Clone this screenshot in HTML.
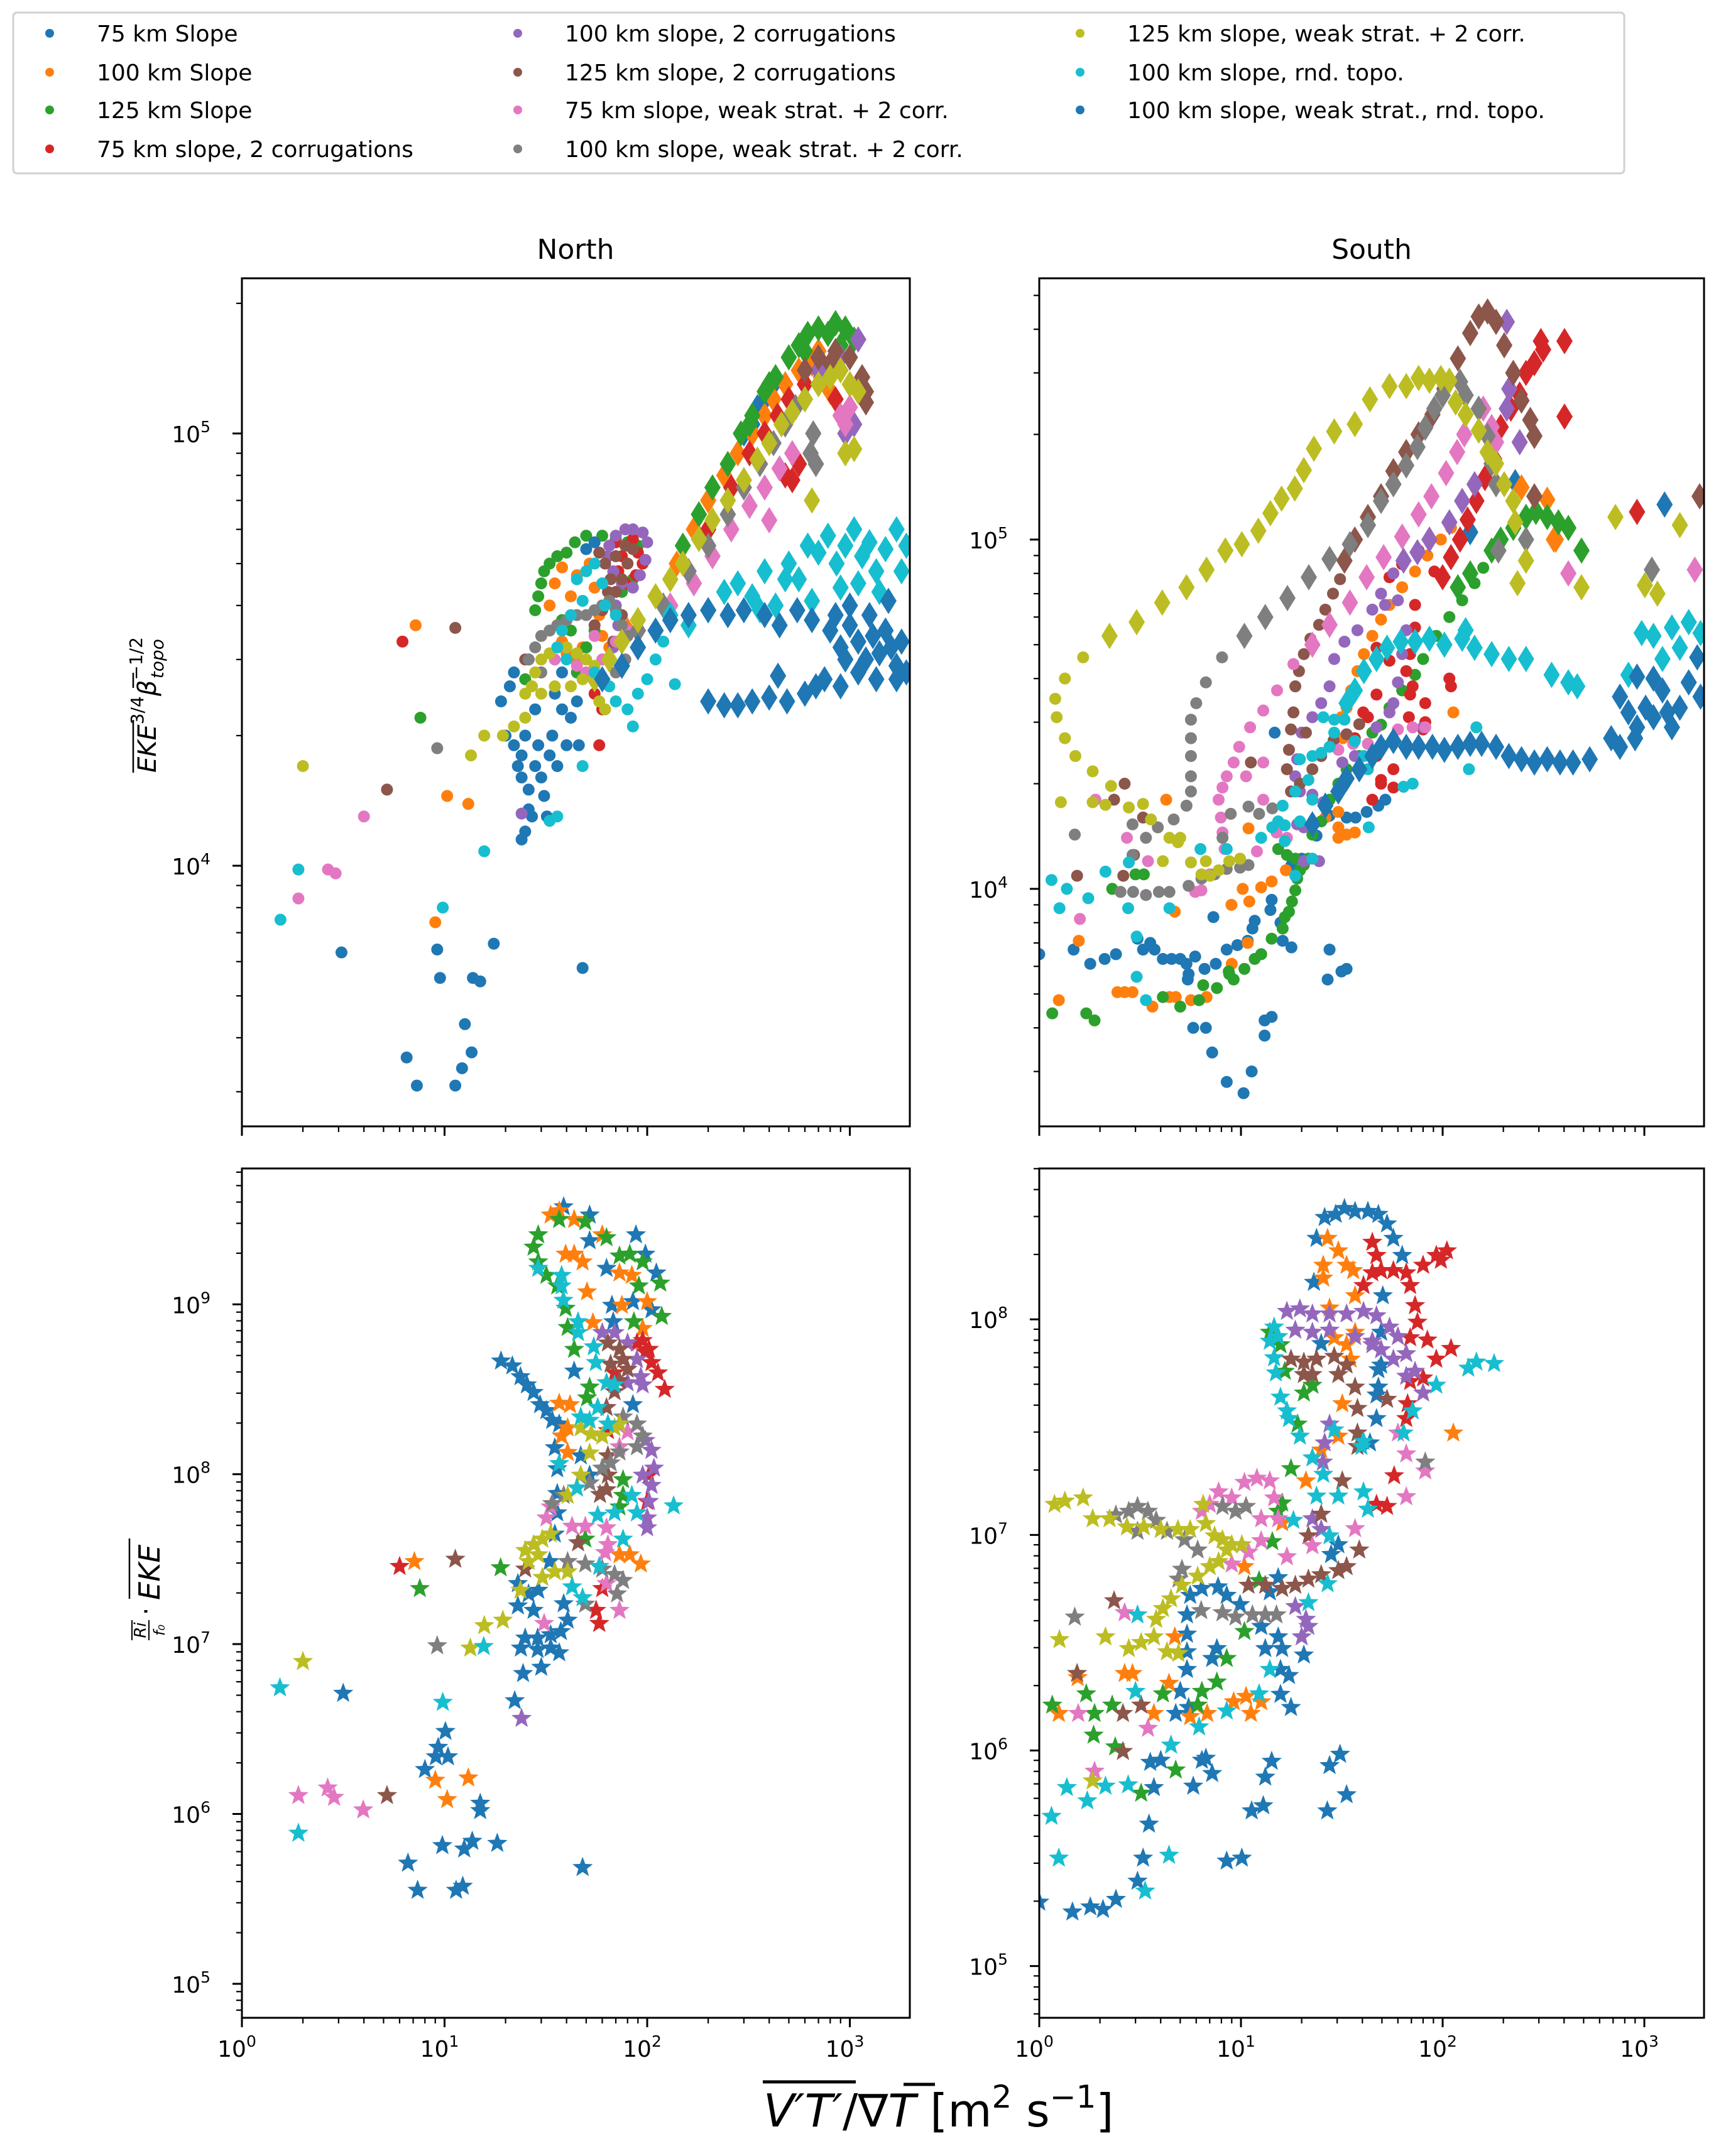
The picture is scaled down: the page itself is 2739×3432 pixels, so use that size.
<!DOCTYPE html>
<html><head><meta charset="utf-8">
<style>
html,body{margin:0;padding:0;background:#fff;}
svg{display:block;font-family:"DejaVu Sans","Liberation Sans",sans-serif;}
</style></head>
<body>
<svg id="fig" width="2739" height="3432" viewBox="0 0 2739 3432" xmlns="http://www.w3.org/2000/svg">
<rect x="0" y="0" width="2739" height="3432" fill="#fff"/>
<g id="legend"></g>
<g id="panels"></g>
<g id="labels"></g>
</svg>
<script>
// ---------- data ----------
const seriesNames = ["75 km Slope","100 km Slope","125 km Slope","75 km slope, 2 corrugations","100 km slope, 2 corrugations","125 km slope, 2 corrugations","75 km slope, weak strat. + 2 corr.","100 km slope, weak strat. + 2 corr.","125 km slope, weak strat. + 2 corr.","100 km slope, rnd. topo.","100 km slope, weak strat., rnd. topo."];
const seriesColors = ["#1f77b4","#ff7f0e","#2ca02c","#d62728","#9467bd","#8c564b","#e377c2","#7f7f7f","#bcbd22","#17becf","#1f77b4"];
const xTickExps = [0,1,2,3];
const ntTickExps = [4,5];
const stTickExps = [4,5];
const nbTickExps = [5,6,7,8,9];
const sbTickExps = [5,6,7,8];

// North top: circles
const ntDots = [
[[3.1,6.3e3],[6.5,3.6e3],[7.3,3.1e3],[9.2,6.4e3],[9.5,5.5e3],[11.3,3.1e3],[12.2,3.4e3],[12.6,4.3e3],[13.6,3.7e3],[13.8,5.5e3],[15,5.4e3],[17.5,6.6e3],[48,5.8e3],[19,2.4e4],[20,2e4],[21,2.6e4],[22,1.9e4],[23,1.7e4],[24,1.6e4],[25,2e4],[26,1.5e4],[27,1.3e4],[25,1.2e4],[24,1.15e4],[26,1.35e4],[28,1.7e4],[30,1.6e4],[31,1.45e4],[32,1.3e4],[33,1.8e4],[29,1.9e4],[34,2e4],[36,1.7e4],[38,2.3e4],[40,1.9e4],[35,2.5e4],[42,2.2e4],[45,2.4e4],[30,2.8e4],[28,2.3e4],[38,2.8e4],[50,3.2e4],[46,1.9e4],[24,1.8e4],[22,2.8e4],[26,3e4]],
[[7.2,3.6e4],[9,7.4e3],[10.3,1.45e4],[13.1,1.39e4],[35,4.5e4],[33,4e4],[36,3.6e4],[38,3.3e4],[40,3.1e4],[44,3e4],[48,3.2e4],[42,4.2e4],[45,4.7e4],[52,5e4],[38,4.9e4],[55,4.4e4],[58,3.8e4],[60,3.4e4],[65,3.2e4]],
[[7.6,2.2e4],[25,2.7e4],[28,3.9e4],[29,4.2e4],[30,4.5e4],[31,4.8e4],[33,5e4],[36,5.2e4],[40,5.3e4],[44,5.6e4],[50,5.8e4],[60,5.8e4],[70,5.7e4],[80,5.6e4],[90,5.5e4],[95,5e4],[85,4.6e4],[75,4.3e4],[65,4.1e4],[55,3.5e4],[50,3.2e4],[45,2.8e4],[42,3.5e4],[38,3.7e4]],
[[6.2,3.3e4],[58,1.9e4],[60,2.3e4],[55,2.5e4],[70,5.6e4],[80,5.5e4],[90,5.3e4],[95,5e4],[88,4.7e4],[78,4.5e4],[72,4.8e4],[75,5.2e4],[85,5.7e4]],
[[24,1.32e4],[65,5.5e4],[70,5.8e4],[78,6e4],[85,6e4],[95,5.9e4],[100,5.6e4],[98,5.1e4],[92,4.7e4],[85,4.4e4],[75,4.5e4],[68,4.8e4],[64,5.2e4],[70,4e4],[72,3.6e4],[68,3.2e4]],
[[11.3,3.55e4],[5.2,1.5e4],[58,5.3e4],[62,5e4],[66,4.6e4],[70,4.3e4],[75,4.6e4],[80,5e4],[85,5.4e4],[78,5.5e4],[70,5.2e4],[64,4.3e4],[60,3.9e4],[55,3.6e4],[68,3.3e4],[75,3.8e4],[25,3e4]],
[[1.9,8.4e3],[2.66,9.8e3],[2.9,9.6e3],[4,1.3e4],[35,3e4],[40,3.2e4],[50,2.8e4],[60,3e4],[70,3.3e4],[55,3.4e4],[45,2.9e4],[80,3.5e4]],
[[9.2,1.87e4],[28,3.2e4],[30,3.4e4],[33,3.5e4],[36,3.6e4],[40,3.7e4],[45,3.8e4],[50,3.8e4],[55,3.9e4],[60,4e4],[65,4.1e4],[70,3.9e4],[75,3.6e4],[80,3.4e4],[78,3e4],[70,2.8e4],[26,3e4],[30,2.8e4]],
[[2,1.7e4],[13.5,1.8e4],[15.7,2e4],[19.4,2e4],[22,2.1e4],[25,2.2e4],[25,2.5e4],[27,2.6e4],[28,2.8e4],[30,3e4],[33,3.1e4],[36,3.2e4],[40,3.2e4],[45,3.1e4],[50,3e4],[55,2.9e4],[48,2.7e4],[42,2.6e4],[35,2.6e4],[30,2.5e4],[58,2.4e4],[62,2.3e4]],
[[1.55,7.5e3],[1.9,9.8e3],[9.8,8e3],[15.7,1.08e4],[33,1.27e4],[36,1.3e4],[137,2.63e4],[48,1.7e4],[45,4.6e4],[50,4.8e4],[55,5e4],[60,4.5e4],[48,4.1e4],[42,3.8e4],[38,3.5e4],[36,3.2e4],[40,3e4],[55,2.8e4],[65,2.6e4],[70,2.4e4],[80,2.3e4],[90,2.5e4],[100,2.7e4],[110,3e4],[120,3.3e4],[70,3.8e4],[62,4e4],[85,2.1e4]],
[[55,5.6e4],[50,5.4e4]]
];
// North top: diamonds
const ntDiamonds = [
[[300,1e5],[350,1.15e5],[420,1.3e5],[380,1.2e5],[330,1.05e5]],
[[80,3.5e4],[110,4.2e4],[140,5e4],[170,6e4],[200,7e4],[240,8e4],[280,9e4],[330,1e5],[380,1.1e5],[420,1.2e5],[480,1.3e5],[560,1.4e5],[650,1.45e5],[720,1.35e5],[800,1.25e5],[900,1.1e5],[700,1.55e5]],
[[150,5.5e4],[180,6.5e4],[210,7.5e4],[250,8.5e4],[290,1e5],[330,1.1e5],[380,1.25e5],[430,1.35e5],[500,1.5e5],[560,1.6e5],[620,1.7e5],[700,1.75e5],[780,1.7e5],[850,1.8e5],[950,1.75e5],[1050,1.65e5],[900,1.6e5],[600,1.55e5],[400,1.3e5],[320,1.05e5]],
[[200,6e4],[260,7.5e4],[320,9e4],[380,1e5],[440,1.1e5],[500,1.2e5],[480,8e4],[520,7.8e4],[560,8.5e4],[600,1.3e5],[850,1.2e5],[1000,1.3e5]],
[[600,1.2e5],[700,1.4e5],[900,1.5e5],[1100,1.65e5],[950,1e5],[1050,1.05e5]],
[[700,1.5e5],[850,1.55e5],[1000,1.5e5],[1200,1.25e5],[1150,1.35e5],[1200,1.18e5],[800,1.45e5],[600,1.4e5]],
[[130,4e4],[170,4.5e4],[210,5.2e4],[260,6e4],[320,6.8e4],[380,7.5e4],[450,8.3e4],[520,9e4],[480,1.05e5],[400,6.3e4],[900,1.1e5],[1000,1.15e5],[950,1.05e5]],
[[90,3.5e4],[120,4e4],[160,4.8e4],[200,5.5e4],[250,6.5e4],[300,7.5e4],[360,8.5e4],[420,9.5e4],[480,1.05e5],[540,1.15e5],[600,1.2e5],[660,1e5],[680,8.5e4],[640,9e4]],
[[55,2.7e4],[65,3e4],[75,3.3e4],[90,3.7e4],[110,4.2e4],[130,4.6e4],[150,5e4],[180,5.7e4],[210,6.3e4],[250,7e4],[300,7.8e4],[350,8.7e4],[400,9.5e4],[460,1.05e5],[520,1.12e5],[600,1.2e5],[700,1.3e5],[800,1.35e5],[900,1.4e5],[1000,1.3e5],[1100,1.25e5],[950,9e4],[1050,9.2e4],[650,7e4]],
[[130,3.8e4],[160,3.6e4],[200,3.9e4],[240,4.3e4],[280,4.5e4],[330,4.2e4],[380,4.8e4],[430,4e4],[500,5e4],[560,4.6e4],[620,5.5e4],[700,5.3e4],[780,5.8e4],[860,5e4],[950,5.5e4],[1050,6e4],[1150,5.2e4],[1250,5.6e4],[1350,4.8e4],[1500,5.4e4],[1700,6e4],[1900,5.5e4],[1800,4.8e4],[1400,4.3e4],[1100,4.5e4],[650,4.1e4],[900,4.4e4],[480,4.6e4],[360,3.9e4]],
[[60,2.7e4],[75,2.9e4],[90,3.2e4],[110,3.5e4],[130,3.7e4],[160,3.8e4],[200,3.9e4],[250,3.8e4],[300,3.9e4],[380,3.8e4],[450,3.6e4],[550,3.9e4],[650,3.7e4],[800,3.5e4],[900,3.2e4],[1000,3.6e4],[1100,3.3e4],[1200,3e4],[1300,3.4e4],[1400,3.1e4],[1500,3.5e4],[1600,3.2e4],[1700,2.9e4],[1800,3.3e4],[1900,2.8e4],[1250,3.8e4],[1550,4.1e4],[1000,4e4],[850,3.8e4],[1100,2.8e4],[1350,2.7e4],[950,3e4],[200,2.4e4],[240,2.35e4],[280,2.35e4],[330,2.4e4],[400,2.45e4],[442,2.75e4],[490,2.4e4],[600,2.5e4],[680,2.6e4],[750,2.7e4],[900,2.6e4],[1700,2.7e4]]
];
// South top: circles
const stDots = [
[[1,6.5e3],[1.48,6.7e3],[1.79,6.1e3],[2.11,6.3e3],[2.4,6.5e3],[3.07,7.2e3],[3.27,6.7e3],[3.55,7e3],[3.73,6.7e3],[4.1,6.3e3],[4.53,6.3e3],[5,6.3e3],[5.37,6.1e3],[5.5,5.7e3],[5.45,5.5e3],[5.93,6.4e3],[6.6,5.9e3],[7.5,6.1e3],[8.5,6.7e3],[9.6,6.9e3],[10.8,7.1e3],[11.4,7.7e3],[11.7,8.1e3],[14,8.7e3],[14.2,9.3e3],[16.1,7.1e3],[15.7,8e3],[17.8,1.17e4],[20,1.22e4],[23.7,1.42e4],[27.5,1.62e4],[33.4,1.6e4],[37,1.6e4],[42,1.66e4],[48,1.73e4],[52,1.8e4],[14.7,2.8e4],[7.3,8.3e3],[5.8,4e3],[6.7,4e3],[7.2,3.4e3],[8.5,2.8e3],[10.3,2.6e3],[11.3,3e3],[13.1,3.8e3],[14.2,4.3e3],[13.1,4.2e3],[26.9,5.5e3],[27.5,6.7e3],[31.5,5.8e3],[33.4,5.9e3],[17.8,6.8e3]],
[[30.4,1.4e4],[33.4,1.43e4],[36.7,1.45e4],[30.4,1.5e4],[26.2,1.6e4],[25,1.56e4],[30.4,1.66e4],[35.2,3.7e4],[37.8,4.2e4],[40.7,4.7e4],[44.8,5.3e4],[49.5,5.9e4],[54.5,6.5e4],[63,7.3e4],[73,8.1e4],[84,9e4],[98,1e5],[110,1.08e5],[33.4,3.3e4],[31.5,3.1e4],[32,2.7e4],[4.26,1.8e4],[10.9,1.49e4],[10.2,1e4],[8.97,9e3],[12.6,1.01e4],[11,9.2e3],[14.2,1.05e4],[16.7,1.13e4],[4.7,8.6e3],[1.57,7.1e3],[1.25,4.8e3],[2.44,5.06e3],[2.65,5.06e3],[2.9,5.06e3],[3.64,4.6e3],[4.42,4.9e3],[4.75,4.9e3],[5.65,4.8e3],[6.75,4.9e3],[9,6.1e3],[10.8,7e3],[113,3.2e4]],
[[1.16,4.4e3],[1.71,4.4e3],[1.88,4.2e3],[4.1,4.9e3],[5,4.6e3],[6.2,4.8e3],[7.6,5.2e3],[8.75,5.7e3],[10.4,5.9e3],[11.7,6.3e3],[12.6,6.5e3],[14.2,7.2e3],[16.1,7.7e3],[16.5,8.3e3],[17.3,8.6e3],[17.9,9.2e3],[18.6,9.9e3],[19,1.07e4],[19.6,1.13e4],[20.5,1.17e4],[18.6,1.22e4],[16.9,1.25e4],[15.3,1.3e4],[21.6,1.22e4],[22.6,1.43e4],[25,1.56e4],[27.5,1.8e4],[30.4,2e4],[33.4,2.2e4],[38.6,2.4e4],[44.8,2.8e4],[49.5,2.95e4],[54.5,3.3e4],[63,3.7e4],[73,4.1e4],[80,4.55e4],[93,5.3e4],[108,6e4],[125,6.7e4],[144,7.5e4],[159,8.3e4],[3.3,1.1e4],[2.3,1e4],[3,1.1e4],[6.5,5.3e3],[9.2,5.5e3],[8.7,5.8e3]],
[[91,8.1e4],[76,9.3e4],[63,8.5e4],[54.5,7.8e4],[73,6.5e4],[73,5.6e4],[69,4.7e4],[66,4.2e4],[71,3.8e4],[69,3.6e4],[82,3.4e4],[68,3.1e4],[80,2.86e4],[57,2.2e4],[49.5,2e4],[44.8,1.8e4],[49.5,2.05e4],[57,1.95e4],[108,4e4],[110,3.8e4],[82,3e4],[47,2.4e4],[42.6,3.1e4],[36.7,2.7e4],[40.4,3.2e4],[47,3.6e4],[54.5,4.5e4],[47,4.9e4]],
[[57,8e4],[49.5,7e4],[44.8,6.3e4],[37.8,5.5e4],[32.6,5.1e4],[29,4.55e4],[27.5,3.8e4],[25,3.4e4],[22.6,3.1e4],[20,2.8e4],[19,2.35e4],[18.6,2.1e4],[19.6,1.9e4],[22.6,1.86e4],[25.6,1.77e4],[20.5,1.5e4],[19,1.53e4],[20.5,1.2e4],[24.4,1.2e4],[51.8,6.5e4],[60,6.7e4],[66,5.5e4],[63,4.7e4],[60,3.9e4],[57,3.4e4],[54.5,3.2e4],[47,2.9e4],[42.6,2.6e4],[36.7,2.4e4],[31.8,2.3e4],[80,2.9e4]],
[[31,7.7e4],[28.6,7e4],[26.2,6.3e4],[24.4,5.7e4],[22.1,5.2e4],[20.5,4.7e4],[19.4,4.2e4],[18.6,3.8e4],[18.2,3.2e4],[17.7,2.86e4],[17.3,2.5e4],[16.9,2.2e4],[17.7,1.9e4],[19.6,2e4],[22.6,2.2e4],[25,2.4e4],[28.8,2.66e4],[33.4,2.77e4],[38.6,2.96e4],[21,2.8e4],[2.65,2e4],[2.35,1.8e4],[3.27,1.6e4],[2.95,1.25e4],[2.61,1.09e4],[1.54,1.09e4],[11.2,2.3e4]],
[[18.2,4.4e4],[15.1,3.7e4],[12.9,3.24e4],[11.1,2.9e4],[9.8,2.55e4],[9.2,2.3e4],[8.5,2.1e4],[8.1,1.95e4],[7.75,1.8e4],[7.95,1.6e4],[8.1,1.45e4],[8.3,1.3e4],[7,1.1e4],[6.37,9.9e3],[5.93,9.8e3],[10.6,2.1e4],[12.9,2.3e4],[12.9,1.8e4],[12,1.28e4],[15,1.45e4],[1.9,1.8e4],[2.72,1.4e4],[3.46,1.2e4],[1.59,8.2e3],[16.9,1.4e4],[30.4,2.5e4],[36,2.6e4],[42.6,2.6e4],[60,2.86e4],[71,2.9e4],[82,2.9e4]],
[[8.06,4.6e4],[6.7,3.9e4],[6,3.4e4],[5.65,3.05e4],[5.65,2.7e4],[5.65,2.4e4],[5.65,2.1e4],[5.65,1.9e4],[5.37,1.73e4],[4.64,1.58e4],[3.87,1.5e4],[3.38,1.4e4],[2.9,1.25e4],[2.53,9.8e3],[2.92,9.8e3],[3.38,9.6e3],[3.92,9.8e3],[4.42,9.8e3],[5.5,1.02e4],[6.37,1.07e4],[7.4,1.1e4],[8.5,1.14e4],[9.9,1.15e4],[10.9,1.17e4],[1.5,1.43e4],[2.9,1.53e4],[8.9,1.64e4],[10.9,1.72e4],[12.3,1.64e4],[14.3,1.7e4],[8.1,1.4e4]],
[[1.65,4.6e4],[1.34,4e4],[1.2,3.5e4],[1.22,3.1e4],[1.34,2.7e4],[1.51,2.4e4],[1.84,2.17e4],[2.27,1.97e4],[1.28,1.77e4],[1.84,1.77e4],[2.13,1.74e4],[2.78,1.71e4],[3.27,1.75e4],[3.58,1.58e4],[4.42,1.4e4],[4.87,1.36e4],[5.65,1.19e4],[6.37,1.1e4],[7.03,1.09e4],[7.75,1.13e4],[8.75,1.2e4],[9.9,1.22e4],[4.1,1.2e4],[5,1.4e4],[6.7,1.2e4]],
[[25.6,3.1e4],[29,3.05e4],[32.6,3.05e4],[36.7,2.65e4],[40.7,2.4e4],[42.6,2.2e4],[27.5,2.55e4],[25,2.45e4],[22.6,2.4e4],[19.6,2.35e4],[21.6,2.05e4],[18.6,1.9e4],[16.1,1.73e4],[15.3,1.56e4],[14.3,1.5e4],[16.5,1.52e4],[12.6,1.4e4],[16.5,1.37e4],[19.6,1.56e4],[22.6,1.8e4],[29,2.8e4],[64,1.96e4],[71,2e4],[135,2.2e4],[147,2.9e4],[43,1.5e4],[22.6,1.22e4],[18.6,1.09e4],[6.3,1.3e4],[2.78,1.19e4],[2.13,1.12e4],[1.15,1.06e4],[1.37,1e4],[1.75,9.4e3],[1.26,8.8e3],[2.76,8.8e3],[4.42,8.8e3],[3.04,7.3e3],[3.04,5.6e3],[3.38,4.8e3],[8.5,1.3e4]],
[]
];
// South top: diamonds
const stDiamonds = [
[[229,1.46e5],[259,1.16e5],[1260,1.26e5],[137,1.05e5]],
[[246,1.41e5],[330,1.3e5],[364,1e5],[356,1e5]],
[[175,9.3e4],[194,1e5],[224,1.08e5],[259,1.16e5],[290,1.2e5],[330,1.16e5],[375,1.12e5],[420,1.08e5],[488,9.3e4],[137,8e4],[119,7.3e4]],
[[402,3.7e5],[315,3.5e5],[285,3.2e5],[259,3e5],[241,2.6e5],[218,2.37e5],[194,2.1e5],[402,2.25e5],[180,1.7e5],[162,1.5e5],[147,1.29e5],[133,1.14e5],[122,1e5],[110,8.9e4],[100,7.8e4],[920,1.2e5],[307,3.7e5]],
[[208,4.2e5],[214,2.7e5],[208,2.37e5],[241,1.9e5],[175,1.7e5],[144,1.44e5],[125,1.29e5],[108,1.12e5],[86,1e5],[75,9.2e4],[64,8.7e4]],
[[32.6,8.7e4],[36.7,1e5],[42.6,1.16e5],[49.5,1.33e5],[57,1.57e5],[66,1.78e5],[76,2e5],[89,2.28e5],[102,2.7e5],[119,3.3e5],[137,3.9e5],[151,4.35e5],[167,4.5e5],[184,4.2e5],[202,3.6e5],[224,3e5],[246,2.5e5],[272,2.2e5],[285,1.98e5],[285,1.33e5],[1880,1.33e5]],
[[22.6,5e4],[27.5,5.7e4],[34.7,6.6e4],[42,7.8e4],[51,8.9e4],[63,1.02e5],[76,1.18e5],[88,1.33e5],[104,1.55e5],[118,1.78e5],[128,2e5],[159,2.37e5],[175,2.1e5],[184,1.9e5],[420,8e4],[1780,8.2e4]],
[[10.4,5.3e4],[13.2,6e4],[17,6.8e4],[21.7,7.8e4],[27.5,8.8e4],[34.7,9.7e4],[42.6,1.1e5],[49.5,1.29e5],[57,1.44e5],[66,1.63e5],[75,1.84e5],[82,2.09e5],[91,2.37e5],[100,2.59e5],[122,2.83e5],[130,2.59e5],[151,2.37e5],[167,1.98e5],[175,1.65e5],[184,1.44e5],[189,9.3e4],[259,1e5],[1090,8.2e4]],
[[2.23,5.3e4],[3.04,5.8e4],[4.07,6.6e4],[5.37,7.3e4],[6.75,8.2e4],[8.37,9.3e4],[10.1,9.7e4],[12.2,1.06e5],[14,1.19e5],[15.9,1.31e5],[18.5,1.4e5],[20.5,1.58e5],[23,1.82e5],[29,2.04e5],[36.7,2.14e5],[43.6,2.52e5],[54.5,2.75e5],[66,2.75e5],[76,2.9e5],[86,2.85e5],[98,2.9e5],[108,2.85e5],[116,2.47e5],[130,2.28e5],[151,2.05e5],[167,1.78e5],[184,1.65e5],[202,1.44e5],[224,1.29e5],[229,1.12e5],[259,8.7e4],[235,7.5e4],[488,7.3e4],[719,1.16e5],[1006,7.4e4],[1161,7e4],[1500,1.1e5]],
[[40.7,4.2e4],[47,4.55e4],[53,4.9e4],[62,5.1e4],[73,5.1e4],[86,5.2e4],[102,5e4],[125,5.2e4],[144,4.9e4],[175,4.7e4],[213,4.55e4],[259,4.55e4],[347,4.1e4],[420,3.9e4],[465,3.8e4],[970,5.4e4],[1110,5.3e4],[1370,5.6e4],[1660,5.8e4],[1900,5.4e4],[1230,4.55e4],[1500,4.9e4],[834,4.1e4],[36.7,3.7e4],[33.4,3.4e4],[130,5.5e4]],
[[22.6,1.53e4],[26.2,1.73e4],[30.4,1.9e4],[33.4,2.07e4],[38.6,2.2e4],[44.8,2.4e4],[49.5,2.55e4],[57,2.65e4],[66,2.55e4],[76,2.55e4],[89,2.55e4],[102,2.5e4],[119,2.55e4],[137,2.6e4],[156,2.6e4],[184,2.55e4],[213,2.4e4],[246,2.35e4],[285,2.3e4],[330,2.35e4],[382,2.3e4],[443,2.3e4],[536,2.35e4],[685,2.7e4],[757,3.55e4],[834,3.2e4],[920,2.9e4],[1015,3.3e4],[1110,3.1e4],[1230,3.7e4],[1370,2.9e4],[1500,3.3e4],[1660,3.9e4],[1830,4.6e4],[1900,3.55e4],[920,4.05e4],[1110,4e4],[757,2.55e4],[900,2.7e4],[1300,3.2e4]]
];
// North bottom: stars
const nbStars = [
[[38.7,3.8e9],[52,3.4e9],[52,2.4e9],[88,2.6e9],[98,2e9],[111,1.55e9],[63,1.65e9],[67,1e9],[85,1.05e9],[105,9.4e8],[68,8e8],[19,4.7e8],[21.6,4.4e8],[23.7,3.8e8],[25.5,3.4e8],[27.5,3.07e8],[29.6,2.6e8],[31.8,2.4e8],[34,2.1e8],[36.8,2e8],[43.6,4.1e8],[85,2.6e8],[47,1.3e8],[35,1.45e8],[36,1.09e8],[52,1e8],[36,7.8e7],[36,6e7],[35,4.5e7],[33,3.1e7],[23,2.3e7],[26,2e7],[29,2.1e7],[23,1.7e7],[27.5,1.6e7],[38.7,1.75e7],[40.5,1.4e7],[37.5,1.2e7],[33.4,1.15e7],[28.8,1.1e7],[25,1.1e7],[23.8,9.6e6],[28.8,9.4e6],[33.4,9.6e6],[36.8,9e6],[24.4,6.8e6],[30,7.4e6],[22.2,4.7e6],[3.16,5.2e6],[10.1,3.1e6],[9.3,2.5e6],[9.06,2.2e6],[10.4,2.2e6],[8,1.85e6],[15,1.17e6],[15,1.06e6],[9.75,6.6e5],[12.5,6.3e5],[13.7,7e5],[18.2,6.8e5],[6.6,5.2e5],[7.36,3.6e5],[11.4,3.6e5],[12.3,3.8e5],[48,4.9e5]],
[[33.4,3.4e9],[36.8,3.6e9],[43.6,3.2e9],[60,2.6e9],[39.6,2e9],[43.6,2e9],[48,1.8e9],[50.5,1.2e9],[73,1.55e9],[84,1.5e9],[75,1e9],[100,1.05e9],[54,7.9e8],[95,7.3e8],[36.8,2.65e8],[41.6,2.6e8],[40.5,1.9e8],[40.5,1.36e8],[37.8,1.7e8],[73,3.4e7],[82,3.4e7],[93,3e7],[7.1,3.1e7],[9,1.6e6],[13.1,1.65e6],[10.3,1.23e6]],
[[29,2.6e9],[27.5,2.2e9],[29,1.8e9],[31.8,1.5e9],[36,1.3e9],[39.6,9.6e8],[40.5,7.4e8],[43.6,5.5e8],[49.5,3.1e9],[36.8,3.2e9],[63,2.5e9],[73,1.95e9],[82,2e9],[95,1.8e9],[91,1.3e9],[116,1.35e9],[118,8.6e8],[86,8e8],[50.5,2.85e8],[52,3.3e8],[76,9.4e7],[76,7.6e7],[73,6.5e7],[49.5,4.2e7],[18.9,2.85e7],[7.55,2.15e7]],
[[89,6e8],[98,5.3e8],[105,4.6e8],[113,4e8],[122,3.2e8],[102,5.5e8],[95,6.2e8],[69,4e8],[64,1.83e8],[102,1e8],[100,7e7],[60,2.15e7],[56,1.6e7],[58,1.34e7],[6,2.9e7]],
[[60,6.9e8],[69,6.9e8],[80,6e8],[89,4.8e8],[93,3.8e8],[95,3.4e8],[80,3.5e8],[98,1.6e8],[105,1.4e8],[108,1.1e8],[105,8.7e7],[102,7e7],[100,5.6e7],[100,4.9e7],[95,1e8],[24,3.7e6]],
[[64,6e8],[73,5.5e8],[76,4.8e8],[80,4.2e8],[73,3.6e8],[66,4.5e8],[69,3.1e8],[63,2.5e8],[64,1.3e8],[64,1e8],[63,8.2e7],[58.5,7.7e7],[45.6,4e7],[11.3,3.2e7],[5.2,1.3e6],[25,2.8e7]],
[[73,1.6e7],[62,3.5e7],[64,3.9e7],[63,4.9e7],[42.6,5e7],[49.5,5e7],[33.4,6.5e7],[31.8,5.6e7],[73,1.47e8],[80,1.8e8],[63,2.3e7],[31,1.34e7],[2.65,1.44e6],[2.85,1.27e6],[1.9,1.3e6],[3.97,1.07e6]],
[[76,2.2e8],[89,2e8],[95,1.7e8],[89,1.47e8],[73,1.37e8],[66,1.18e8],[60,1.1e8],[52,9e7],[45,8.4e7],[38.7,7.6e7],[34,6.8e7],[40.5,3.1e7],[49.5,3e7],[60,2.8e7],[69,2.6e7],[76,2.4e7],[71,2e7],[9.2,9.9e6],[49.5,1.74e7]],
[[25,3.6e7],[27.5,3.9e7],[30.4,4.2e7],[33.4,4.5e7],[29,3.4e7],[26,3.1e7],[35,2.7e7],[40.5,2.7e7],[30.4,2.5e7],[40.5,7.6e7],[47,1e8],[52,1.35e8],[60,1.7e8],[69,1.9e8],[73,2e8],[53,1.75e8],[47,1.9e8],[23.7,2.1e7],[19.4,1.4e7],[15.7,1.3e7],[13.4,9.6e6],[2,8e6]],
[[29,1.65e9],[37.8,1.5e9],[37.8,1.3e9],[38.6,1.07e9],[45.6,8e8],[45.6,6.9e8],[54.5,5.7e8],[55.8,4.6e8],[63,3.5e8],[69,3.4e8],[57,2.5e8],[64,2e8],[52,2.1e8],[47,2.2e8],[36.8,1.17e8],[45,8.4e7],[57,5.8e7],[69,6e7],[76,4.2e7],[84,7.6e7],[89,6e7],[135,6.6e7],[58,2.9e7],[42.6,2.2e7],[48,1.9e7],[15.6,9.8e6],[9.8,4.6e6],[1.54,5.6e6],[1.9,7.8e5]],
[]
];
// South bottom: stars
const sbStars = [
[[26,3e8],[29.5,3.1e8],[32.6,3.3e8],[36.8,3.2e8],[42.6,3.2e8],[48,3.1e8],[53,2.8e8],[57,2.4e8],[63,2e8],[23.7,2.4e8],[23,1.5e8],[50.5,1.3e8],[49.5,8.8e7],[49.5,6.2e7],[48,4.9e7],[47,3.5e7],[43.6,2.7e7],[25,7.8e7],[30.4,9.1e6],[28,8.2e6],[15.3,6.4e6],[13.9,5.5e6],[9.9,4.8e6],[8.5,5.3e6],[7.7,5.8e6],[6.4,5.7e6],[5.6,5.3e6],[5.4,4.3e6],[5.4,3.5e6],[5.4,2.9e6],[5.4,2.4e6],[7.2,2.7e6],[7.6,3e6],[12.6,3.8e6],[15.3,3.4e6],[16,3e6],[13.2,3e6],[20.5,2.8e6],[15.7,2.4e6],[17.3,2.25e6],[15.7,1.84e6],[17.7,1.6e6],[5,1.9e6],[5.5,1.6e6],[4.75,1.5e6],[3.55,8.9e5],[4,9.1e5],[3.7,6.8e5],[6.4,9.1e5],[6.7,9.3e5],[7.2,7.9e5],[5.8,6.9e5],[14.2,9e5],[13.2,7.6e5],[27.5,8.6e5],[31,9.7e5],[33.4,6.3e5],[26.8,5.3e5],[12.9,5.6e5],[11.3,5.3e5],[3.5,4.6e5],[3.27,3.2e5],[3.07,2.5e5],[8.5,3.1e5],[10.1,3.2e5],[2.4,2.06e5],[2.07,1.85e5],[1.79,1.9e5],[1.46,1.8e5],[1,2e5],[48,5.9e7],[47,4.5e7]],
[[26.9,2.4e8],[30.4,2.1e8],[33.4,1.8e8],[36,1.7e8],[36.8,1.3e8],[25.6,1.8e8],[25.6,1.57e8],[27.5,1.14e8],[29,8.3e7],[33.4,7.7e7],[35,6.6e7],[36.8,8.8e7],[31.8,4.1e7],[30.4,2.9e7],[25,2.5e7],[21,1.8e7],[113,3e7],[16,1.15e7],[10.4,7.2e6],[4.7,3.4e6],[2.65,2.3e6],[2.9,2.3e6],[1.55,2.2e6],[1.25,1.5e6],[3.7,1.5e6],[4.4,2.07e6],[6.8,1.5e6],[5.6,1.45e6],[9.2,1.7e6],[10.6,1.8e6],[11.2,1.5e6],[12.6,1.7e6]],
[[13.9,8.8e7],[15.7,7.7e7],[16.5,5.8e7],[19.1,3.3e7],[17.7,2.05e7],[15.3,1.3e7],[14.3,9.4e6],[10.4,3.6e6],[8.5,2.7e6],[7.6,2.1e6],[6.4,1.9e6],[4.1,1.85e6],[2.3,1.64e6],[1.71,1.85e6],[1.16,1.64e6],[1.88,1.5e6],[1.86,1.19e6],[2.38,1.05e6],[3.2,6.4e5],[4.75,8.2e5],[6.1,1.64e6],[12.3,6.2e6],[16,1.42e7],[20.5,4.6e7],[22.6,5e7]],
[[44.8,2.3e8],[47,2e8],[44.8,1.66e8],[40.5,1.45e8],[49.5,1.7e8],[57,1.7e8],[66,1.66e8],[80,1.8e8],[93,2e8],[105,2.1e8],[98,1.9e8],[69,1.45e8],[73,1.17e8],[75,9.8e7],[69,8.3e7],[84,8.1e7],[93,6.6e7],[110,7.4e7],[69,5.2e7],[67,4.1e7],[66,3.5e7],[57.5,1.9e7],[53,1.37e7],[47,1.4e7],[80,5.4e7]],
[[16.9,1.1e8],[19.6,1.13e8],[22.6,1.07e8],[27.5,1.07e8],[33.4,1.07e8],[40.5,1.1e8],[47,1.05e8],[54.5,9.3e7],[60,8.4e7],[66,7e7],[73,5.8e7],[66,5.5e7],[57,6.6e7],[44.8,7.7e7],[49.5,7.3e7],[18.6,9e7],[22.6,8.8e7],[27.5,9e7],[36.8,8.4e7],[44.8,8e7],[80,4.6e7],[27.5,3.3e7],[26,2.7e7],[25.5,2.2e7],[22.6,1.2e7],[25,1.07e7],[18.6,4.7e6],[21,4.1e6],[21.6,3.8e6],[20,3.4e6]],
[[17.7,6.6e7],[20.5,6.4e7],[23.7,6.6e7],[29,6.8e7],[33.4,6.2e7],[36.8,4.9e7],[37.8,3.9e7],[37.8,3e7],[37.8,2.6e7],[20.5,5.6e7],[22.6,5.6e7],[30.4,5.6e7],[31.8,1.8e7],[38.6,8.6e6],[33.4,7.2e6],[30.4,6.9e6],[25,6.6e6],[21.6,6.3e6],[18.6,5.9e6],[16,5.7e6],[13.2,5.9e6],[21.6,1e7],[25,1.26e7],[53,4.3e7],[2.35,5e6],[1.54,2.3e6],[2.6,1.5e6],[3.2,1.64e6],[2.6,1e6],[10.9,5.9e6]],
[[7.75,1.6e7],[9,1.5e7],[10.4,1.77e7],[12,1.85e7],[13.9,1.8e7],[14.6,1.5e7],[7,1.4e7],[6.4,1.3e7],[12.6,1.2e7],[15.3,1.2e7],[36.8,1.08e7],[22.6,9e6],[12.6,9.5e6],[10.9,8.4e6],[9,7.4e6],[16.9,8e6],[60,3e7],[66,2.4e7],[82,2e7],[66,1.52e7],[2.65,4.4e6],[1.56,1.5e6],[3.46,1.28e6],[1.88,8.1e5]],
[[2.4,1.25e7],[2.78,1.3e7],[3.07,1.37e7],[3.46,1.3e7],[3.8,1.18e7],[3.07,1.05e7],[4.3,1.05e7],[5.25,9.6e6],[8.1,1.37e7],[9.4,1.3e7],[10.6,1.37e7],[6.1,8.6e6],[5.1,7e6],[4.9,6.3e6],[6.35,4.5e6],[8.1,4.4e6],[9.4,4.2e6],[11.4,4.3e6],[13.2,4.3e6],[15,4.3e6],[1.5,4.2e6],[82,2.2e7]],
[[1.19,1.4e7],[1.34,1.45e7],[1.65,1.5e7],[1.84,1.2e7],[2.23,1.2e7],[2.72,1.1e7],[3.3,1.1e7],[4,1.07e7],[4.87,1.07e7],[5.6,1.07e7],[6.5,1.4e7],[6.7,1.14e7],[7.4,1e7],[8.1,9.6e6],[9,9.1e6],[10.1,9.1e6],[8.5,8.6e6],[7.75,7.6e6],[7,7.2e6],[6.1,6.5e6],[5.1,5.9e6],[4.5,5.1e6],[4.1,4.6e6],[3.8,4.1e6],[3.7,3.4e6],[4.3,2.9e6],[4.9,2.85e6],[3.2,3.2e6],[2.78,3e6],[2.13,3.4e6],[1.26,3.3e6],[1.84,7.3e5]],
[[14.6,9.3e7],[15.3,8.4e7],[13.9,8e7],[14.6,6.7e7],[14.9,5.7e7],[15.7,4.4e7],[16.9,3.8e7],[17.3,3.5e7],[19.6,2.9e7],[22.6,2.3e7],[25.6,1.93e7],[23.7,1.53e7],[30.4,1.53e7],[40.5,1.6e7],[42.6,1.33e7],[39.6,2.6e7],[40.5,2.74e7],[29,3.1e7],[18.2,1.18e7],[27.5,1e7],[26.9,6e6],[21.6,4.9e6],[93,5e7],[71,3.8e7],[134,6e7],[147,6.4e7],[180,6.3e7],[64,3e7],[13.9,2.4e6],[12.3,1.85e6],[8.5,1.54e6],[6.2,1.3e6],[4.5,1.07e6],[3,1.9e6],[2.76,7e5],[2.13,6.9e5],[1.37,6.8e5],[1.73,5.9e5],[1.15,5e5],[1.25,3.2e5],[4.4,3.3e5],[3.35,2.25e5],[3.07,4.3e6]],
[]
];

// ---------- layout ----------
const NS = "http://www.w3.org/2000/svg";
function mk(tag, attrs, parent){ const e=document.createElementNS(NS,tag); for(const k in attrs) e.setAttribute(k,attrs[k]); if(parent) parent.appendChild(e); return e; }

const X_LOG_MIN = 0, X_LOG_MAX = 3.296;
const panels = [
 {id:'north-top', x0:385, x1:1448, y0:443, y1:1793, lmin:3.397, lmax:5.359, ticks:ntTickExps, xlabels:false, sets:[[ntDots,'circle'],[ntDiamonds,'diamond']]},
 {id:'south-top', x0:1654, x1:2712, y0:443, y1:1793, lmin:3.32, lmax:5.748, ticks:stTickExps, xlabels:false, sets:[[stDots,'circle'],[stDiamonds,'diamond']]},
 {id:'north-bottom', x0:385, x1:1448, y0:1860, y1:3212, lmin:4.80, lmax:9.80, ticks:nbTickExps, xlabels:true, sets:[[nbStars,'star']]},
 {id:'south-bottom', x0:1654, x1:2712, y0:1860, y1:3212, lmin:4.76, lmax:8.70, ticks:sbTickExps, xlabels:true, sets:[[sbStars,'star']]}
];

function starPath(cx,cy,R){
  const r=R*0.42; let d='';
  for(let i=0;i<10;i++){ const a=-Math.PI/2+i*Math.PI/5; const rr=i%2?r:R; d+=(i?'L':'M')+(cx+rr*Math.cos(a)).toFixed(1)+','+(cy+rr*Math.sin(a)).toFixed(1); }
  return d+'Z';
}

const gPanels = document.getElementById('panels');
panels.forEach(p=>{
  const g = mk('g',{},gPanels);
  
  
  const xs = v => p.x0 + (Math.log10(v)-X_LOG_MIN)/(X_LOG_MAX-X_LOG_MIN)*(p.x1-p.x0);
  const ys = v => p.y1 - (Math.log10(v)-p.lmin)/(p.lmax-p.lmin)*(p.y1-p.y0);
  const clipId = 'clip-'+p.id;
  const cp = mk('clipPath',{id:clipId},g);
  mk('rect',{x:p.x0,y:p.y0,width:p.x1-p.x0,height:p.y1-p.y0},cp);
  const marks = mk('g',{'clip-path':'url(#'+clipId+')'},g);
  
  
  for(let s=0;s<11;s++){
    p.sets.forEach(([data,shape])=>{
      const pts = data[s]; const col = seriesColors[s];
      pts.forEach(pt=>{
        const cx = xs(pt[0]), cy = ys(pt[1]); let el;
        if(shape==='circle') el = mk('ellipse',{cx:cx,cy:cy,rx:9.5,ry:9.5,fill:col},marks);
        else if(shape==='diamond') el = mk('path',{d:`M${cx},${cy-21}L${cx+13},${cy}L${cx},${cy+21}L${cx-13},${cy}Z`,fill:col},marks);
        else el = mk('path',{d:starPath(cx,cy+1.5,17),fill:col},marks);
        
        
      });
    });
  }
  const fr = mk('rect',{x:p.x0,y:p.y0,width:p.x1-p.x0,height:p.y1-p.y0,fill:'none',stroke:'#000','stroke-width':3},g);
  
  
  const xax = mk('g',{},g);
  
  
  for(let e=0;e<=3;e++){
    for(let m=1;m<10;m++){
      const v=m*Math.pow(10,e); const lx=Math.log10(v); if(lx>X_LOG_MAX) break;
      const x=xs(v); const len = m===1?15:9;
      mk('line',{x1:x,y1:p.y1,x2:x,y2:p.y1+len,stroke:'#000','stroke-width':m===1?3:2.2},xax);
    }
  }
  if(p.xlabels){
    xTickExps.forEach(e=>{
      const t = mk('text',{x:xs(Math.pow(10,e))-8,y:p.y1+62,'font-size':36,'text-anchor':'middle',fill:'#000'},xax);
      t.textContent='10';
      const sup = mk('tspan',{'font-size':25,dy:-16},t); sup.textContent=String(e);
      
      
    });
  }
  const yax = mk('g',{},g);
  
  
  for(let e=Math.floor(p.lmin);e<=Math.ceil(p.lmax);e++){
    for(let m=1;m<10;m++){
      const v=m*Math.pow(10,e); const l=Math.log10(v); if(l<p.lmin||l>p.lmax) continue;
      const y=ys(v); const len=m===1?15:9;
      mk('line',{x1:p.x0-len,y1:y,x2:p.x0,y2:y,stroke:'#000','stroke-width':m===1?3:2.2},yax);
    }
  }
  p.ticks.forEach(e=>{
    const y = ys(Math.pow(10,e));
    const t = mk('text',{x:p.x0-50,y:y+14,'font-size':36,'text-anchor':'end',fill:'#000'},yax);
    t.textContent='10';
    const sup = mk('tspan',{'font-size':25,dy:-16},t); sup.textContent=String(e);
    
    
  });
});

// ---------- legend ----------
const lg = document.getElementById('legend');
mk('rect',{x:21,y:20,width:2564,height:256,rx:6,fill:'#fff',stroke:'#d0d0d0','stroke-width':3},lg);
const colX = [79,824,1719], rowY=[53,115,175,237];
const layout = [[0,0],[0,1],[0,2],[0,3],[1,0],[1,1],[1,2],[1,3],[2,0],[2,1],[2,2]];
seriesNames.forEach((n,i)=>{
  const [c,r] = layout[i];
  const ge = mk('g',{},lg);
  
  
  mk('ellipse',{cx:colX[c],cy:rowY[r],rx:7,ry:7,fill:seriesColors[i]},ge);
  const t = mk('text',{x:colX[c]+75,y:rowY[r]+13,'font-size':36,fill:'#000'},ge);
  t.textContent = n;
});

// ---------- titles and labels ----------
const lb = document.getElementById('labels');
function txt(x,y,s,size,attrs){ const t=mk('text',Object.assign({x:x,y:y,'font-size':size,fill:'#000','text-anchor':'middle'},attrs||{}),lb); t.textContent=s; return t; }
let t1 = txt(916,412,'North',44);  
let t2 = txt(2183,412,'South',44);  

const yl1 = mk('g',{transform:'translate(248,1118) rotate(-90)'},lb);


{
  const t = mk('text',{x:-112,y:0,'font-size':40,'font-style':'italic',fill:'#000'},yl1);
  const a = mk('tspan',{},t); a.textContent='EKE';
  const b = mk('tspan',{dy:-20,'font-size':28,'font-style':'normal'},t); b.textContent='3/4';
  const c = mk('tspan',{dy:20},t); c.textContent='β';
  const d = mk('tspan',{dy:-22,'font-size':28,'font-style':'normal'},t); d.textContent='−1/2';
  const e = mk('tspan',{dx:-66,dy:34,'font-size':28},t); e.textContent='topo';
  mk('line',{x1:-112,y1:-36,x2:-28,y2:-36,stroke:'#000','stroke-width':2.5},yl1);
  mk('line',{x1:23,y1:-36,x2:47,y2:-36,stroke:'#000','stroke-width':2.5},yl1);
}
const yl2 = mk('g',{transform:'translate(240,2537) rotate(-90)'},lb);


{
  const r = mk('text',{x:-58,y:-8,'font-size':26,'font-style':'italic','text-anchor':'middle',fill:'#000'},yl2); r.textContent='Ri';
  mk('line',{x1:-74,y1:-30,x2:-42,y2:-30,stroke:'#000','stroke-width':2},yl2);
  mk('line',{x1:-74,y1:-3,x2:-42,y2:-3,stroke:'#000','stroke-width':2},yl2);
  const f = mk('text',{x:-58,y:22,'font-size':24,'font-style':'italic','text-anchor':'middle',fill:'#000'},yl2); f.textContent='f₀';
  const d = mk('text',{x:-28,y:6,'font-size':40,'text-anchor':'middle',fill:'#000'},yl2); d.textContent='·';
  const e = mk('text',{x:-10,y:14,'font-size':46,'font-style':'italic',fill:'#000'},yl2); e.textContent='EKE';
  mk('line',{x1:-8,y1:-34,x2:88,y2:-34,stroke:'#000','stroke-width':2.5},yl2);
}
const xl = mk('g',{},lb);


{
  const t = mk('text',{x:1215,y:3385,'font-size':72,fill:'#000'},xl);
  const a = mk('tspan',{'font-style':'italic'},t); a.textContent="V′T′";
  const b = mk('tspan',{},t); b.textContent='/∇';
  const c = mk('tspan',{'font-style':'italic'},t); c.textContent='T';
  const d = mk('tspan',{},t); d.textContent=' [m';
  const e = mk('tspan',{dy:-30,'font-size':50},t); e.textContent='2';
  const f = mk('tspan',{dy:30},t); f.textContent=' s';
  const g2 = mk('tspan',{dy:-30,'font-size':50},t); g2.textContent='−1';
  const h = mk('tspan',{dy:30},t); h.textContent=']';
  mk('line',{x1:1214,y1:3314,x2:1362,y2:3314,stroke:'#000','stroke-width':5},xl);
  mk('line',{x1:1438,y1:3318,x2:1488,y2:3318,stroke:'#000','stroke-width':5},xl);
}
</script>
</body></html>
